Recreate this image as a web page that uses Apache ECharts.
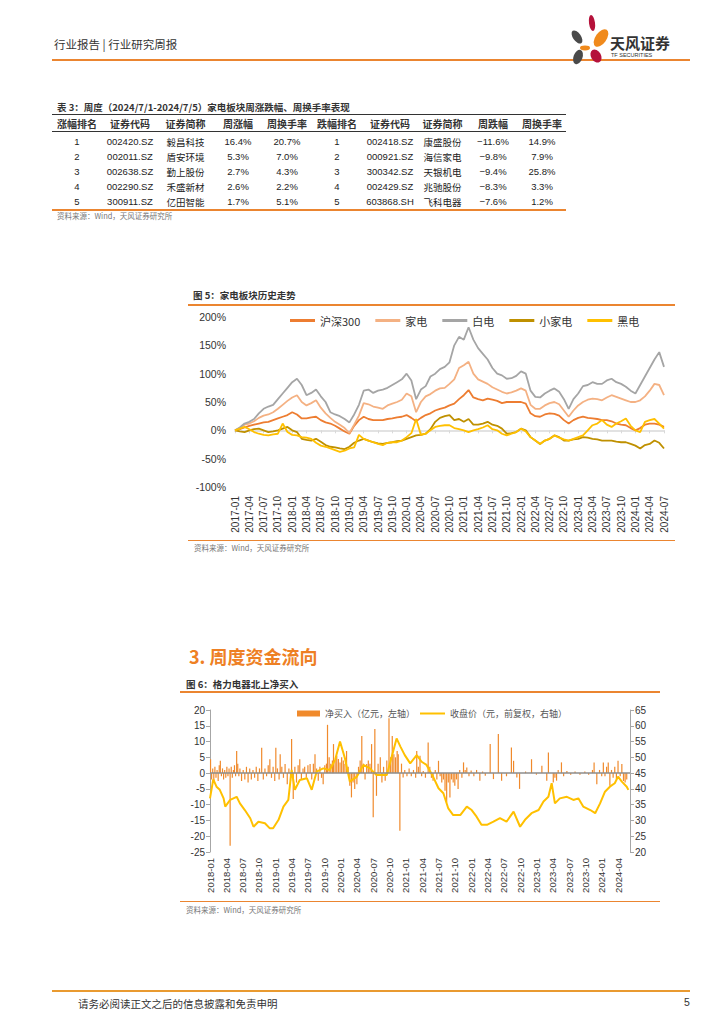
<!DOCTYPE html>
<html><head><meta charset="utf-8">
<script src="https://cdn.jsdelivr.net/npm/echarts/dist/echarts.min.js"></script>
<style>
body{margin:0;width:724px;height:1024px;position:relative;background:#fff;font-family:"Noto Sans CJK SC","Liberation Sans",sans-serif;color:#333;overflow:hidden}
.a{position:absolute;white-space:nowrap}
.ln{position:absolute;background:#EB8530}
table{border-collapse:collapse;table-layout:fixed;font-family:"Liberation Sans","Noto Sans CJK SC",sans-serif}
th{font-size:10px;font-weight:bold;height:16px;padding:0;text-align:center;border-bottom:1px solid #333;font-family:"Noto Sans CJK SC",sans-serif}
td{font-size:9.5px;height:15px;padding:0;text-align:center;color:#222}
</style></head>
<body>
<!-- page header -->
<div class="a" style="left:54px;top:36px;font-size:11.5px;color:#333">行业报告 | 行业研究周报</div>
<div class="ln" style="left:52px;top:59px;width:638px;height:2px"></div>
<svg class="a" style="left:566px;top:14px" width="44" height="52" viewBox="0 0 44 52">
  <ellipse cx="26" cy="9" rx="3" ry="8" fill="#B5123B" transform="rotate(-8 26 9)"/>
  <ellipse cx="35" cy="24" rx="5.5" ry="10" fill="#F08A1C" transform="rotate(35 35 24)"/>
  <ellipse cx="11" cy="23" rx="4" ry="7.5" fill="#4A4A4A" transform="rotate(-35 11 23)"/>
  <ellipse cx="19" cy="34" rx="5" ry="2.4" fill="#F08A1C"/>
  <ellipse cx="12" cy="43" rx="4.5" ry="7.5" fill="#4A4A4A" transform="rotate(20 12 43)"/>
  <ellipse cx="30" cy="42" rx="5" ry="7" fill="#B5123B" transform="rotate(-30 30 42)"/>
</svg>
<div class="a" style="left:610px;top:32px;font-size:15px;font-weight:bold;color:#333">天风证券</div>
<div class="a" style="left:611px;top:52px;font-size:5.5px;color:#333;font-family:'Liberation Sans'">TF SECURITIES</div>

<!-- table -->
<div class="a" style="left:57px;top:100px;font-size:9.5px;font-weight:bold;color:#333">表 3：周度（2024/7/1-2024/7/5）家电板块周涨跌幅、周换手率表现</div>
<table id="tbl" class="a" style="left:52px;top:114px;width:514px;border-top:1px solid #333;border-bottom:2px solid #EB8530"></table>
<div class="a" style="left:57px;top:210px;font-size:7.5px;color:#777">资料来源：Wind，天风证券研究所</div>

<!-- chart 5 -->
<div class="a" style="left:193px;top:288px;font-size:9.5px;font-weight:bold;color:#333">图 5：家电板块历史走势</div>
<div class="ln" style="left:188px;top:304px;width:487px;height:1.5px"></div>
<div id="c5" class="a" style="left:185px;top:305px;width:490px;height:235px"></div>
<div class="ln" style="left:188px;top:540px;width:487px;height:1px"></div>
<div class="a" style="left:194px;top:542px;font-size:7.5px;color:#777">资料来源：Wind，天风证券研究所</div>

<!-- chart 6 -->
<div class="a" style="left:189px;top:643px;font-size:18px;font-weight:bold;color:#EE8024">3. 周度资金流向</div>
<div class="a" style="left:186px;top:677px;font-size:9.5px;font-weight:bold;color:#333">图 6：格力电器北上净买入</div>
<div class="ln" style="left:180px;top:691px;width:480px;height:1.5px"></div>
<div id="c6" class="a" style="left:170px;top:692px;width:490px;height:208px"></div>
<div class="ln" style="left:180px;top:901px;width:480px;height:1px"></div>
<div class="a" style="left:186px;top:904px;font-size:7.5px;color:#777">资料来源：Wind，天风证券研究所</div>

<!-- footer -->
<div class="ln" style="left:52px;top:990px;width:638px;height:2px;background:#E99A30"></div>
<div class="a" style="left:78px;top:996px;font-size:10.5px;color:#333">请务必阅读正文之后的信息披露和免责申明</div>
<div class="a" style="left:684px;top:996px;font-size:10.5px;color:#333;font-family:'Liberation Sans'">5</div>

<script>
// ---------- table data ----------
const tableHeader = ['涨幅排名','证券代码','证券简称','周涨幅','周换手率','跌幅排名','证券代码','证券简称','周跌幅','周换手率'];
const upRank = ['1','2','3','4','5'];
const upCode = ['002420.SZ','002011.SZ','002638.SZ','002290.SZ','300911.SZ'];
const upName = ['毅昌科技','盾安环境','勤上股份','禾盛新材','亿田智能'];
const upChg = ['16.4%','5.3%','2.7%','2.6%','1.7%'];
const upTurn = ['20.7%','7.0%','4.3%','2.2%','5.1%'];
const dnRank = ['1','2','3','4','5'];
const dnCode = ['002418.SZ','000921.SZ','300342.SZ','002429.SZ','603868.SH'];
const dnName = ['康盛股份','海信家电','天银机电','兆驰股份','飞科电器'];
const dnChg = ['-11.6%','-9.8%','-9.4%','-8.3%','-7.6%'];
const dnTurn = ['14.9%','7.9%','25.8%','3.3%','1.2%'];
const colW = [50,56,55,50,48,52,54,51,50,48];

// ---------- chart 5 data (monthly, 2017-01 .. 2024-07, %) ----------
const startYear5 = 2017;
const hs300 = [0,2,5,8,10,12,14,15,18,21,
  24,27,32,28,21,21,23,24,18,14,
  12,8,3,-2,-6,8,18,24,20,18,
  18,18,20,21,23,24,27,22,16,22,
  27,30,35,38,40,44,47,55,62,71,
  58,55,53,56,54,52,48,50,50,50,
  50,47,30,25,24,28,30,29,26,18,
  12,18,22,24,22,21,20,18,18,16,
  12,10,9,4,0,4,10,12,12,10,
  6];
const jiadian = [0,4,10,12,16,22,26,28,32,38,
  45,52,58,62,50,44,48,53,40,30,
  22,15,10,4,-5,10,26,48,46,42,
  40,38,44,47,50,54,65,60,32,50,
  60,64,70,74,75,82,90,110,115,121,
  100,90,86,82,76,72,68,65,67,70,
  74,70,45,38,38,44,48,50,46,35,
  24,35,44,50,54,56,55,53,58,62,
  59,56,53,50,50,53,60,70,82,80,
  62];
const baidian = [0,5,12,15,20,30,38,42,45,55,
  65,75,85,91,80,62,66,72,60,50,
  32,28,25,20,14,28,45,70,72,66,
  70,72,75,80,85,90,100,88,55,72,
  78,95,100,108,112,120,150,165,160,182,
  160,145,135,125,110,100,97,91,92,96,
  104,100,70,59,58,65,70,74,68,55,
  38,55,65,78,80,85,82,82,88,91,
  85,82,77,70,65,80,95,110,125,138,
  112];
const xiaojiadian = [0,-2,-3,0,2,3,0,-3,-2,0,
  3,6,0,-3,-15,-17,-18,-15,-20,-26,
  -29,-30,-32,-33,-29,-22,-18,-15,-18,-21,
  -23,-24,-22,-21,-19,-18,-15,-12,-9,-8,
  -6,2,15,22,25,27,18,20,15,20,
  10,10,12,15,10,8,3,-6,-5,-3,
  3,0,-12,-18,-24,-18,-15,-9,-12,-18,
  -18,-16,-15,-12,-13,-15,-16,-18,-18,-18,
  -20,-21,-21,-24,-27,-32,-26,-24,-18,-22,
  -32];
const heidian = [0,3,6,2,-3,-6,-8,-9,-7,-6,
  12,-3,-8,-9,-12,-13,-15,-22,-27,-29,
  -32,-35,-38,-36,-32,-30,-8,-15,-18,-21,
  -24,-26,-22,-21,-21,-18,-12,-5,20,-8,
  -6,0,6,8,9,9,4,2,0,-3,
  0,2,5,9,2,0,-6,-9,-6,-3,
  3,-2,-12,-18,-24,-18,-15,-9,-13,-16,
  -18,-15,-12,-9,0,9,12,18,10,6,
  12,16,21,8,0,-3,15,18,20,12,
  3];
const names5 = ['沪深300','家电','白电','小家电','黑电'];
const colors5 = ['#ED7D31','#F4B183','#A5A5A5','#BF9000','#FFC000'];
const yTicks5 = [-100,-50,0,50,100,150,200];

// ---------- chart 6 data (x = months since 2018-01) ----------
const startYear6 = 2018;
const priceX = [0,0.6,1.2,1.8,2.5,2.8,3.7,4.9,5.5,6.4,7.4,8,8.9,10.1,11,11.6,12.6,13.5,14.4,15,15.6,16.5,17.8,18.7,19.6,20.8,22,23,23.9,24.8,25.7,27,28.2,29.4,30.6,31.6,32.5,33.4,34.3,35,35.8,36.8,38,38.9,39.8,41,42,42.9,43.8,44.7,46,47.2,48.1,49,49.9,50.9,52.1,53.3,54.5,55.8,57,57.9,59.1,60.4,61.3,62.2,62.8,63.4,64.3,65.6,66.8,67.7,68.6,69.9,70.8,71.7,72.6,73.5,74.4,75,75.7,76.6,76.9];
const priceY = [37,43,40.7,39.7,37,34.4,36.5,37.5,35.4,33.3,30.7,28,29.6,29.1,27.5,27.5,30.2,34.4,36.5,46,39.7,42.8,43.4,39.7,45.5,46.5,46,49.2,55,49.7,42.3,43.9,47.6,46.5,44.4,44.4,44.4,50.2,56,53.4,50.7,48.1,50.7,48.6,47.6,43.9,40.2,38.6,33.8,31.7,31.7,34.4,33.3,31.2,28.6,28.6,29.6,30.7,29.6,32.8,28,30.2,32.3,33.3,36,37.5,41.8,35.4,37,37.5,36.5,37,34.4,33.3,32.3,35.4,39.1,40.7,41.8,43.9,42.3,40.7,39.7];
const netBuyX = [0.1,0.3,0.5,0.7,0.9,1.1,1.3,1.5,1.7,1.9,2.1,2.3,2.5,2.7,2.9,3.1,3.3,3.5,3.7,3.9,4.1,4.3,4.5,4.7,4.9,5.1,5.3,5.5,5.8,6.1,6.4,6.7,7.0,7.3,7.6,7.9,8.2,8.5,8.8,9.1,9.5,9.8,10.1,10.4,10.7,11.0,11.3,11.6,11.9,12.1,12.4,12.7,12.9,13.2,13.5,13.8,14.2,14.5,14.8,15.0,15.3,15.6,15.9,16.2,16.5,16.8,17.1,17.4,17.7,18.0,18.4,18.7,19.0,19.3,19.6,19.9,20.2,20.5,20.8,21.1,21.4,21.6,21.9,22.2,22.5,22.7,23.0,23.3,23.6,23.9,24.2,24.5,24.8,25.1,25.4,25.7,26.0,26.3,26.6,27.0,27.3,27.6,27.9,28.2,28.5,28.8,29.1,29.4,29.7,30.0,30.3,30.6,30.9,31.3,31.6,31.9,32.2,32.5,32.9,33.2,33.5,33.8,34.1,34.4,34.6,34.9,35.2,35.5,35.8,36.2,36.6,37.0,37.4,37.8,38.0,38.3,38.6,38.9,39.2,39.6,40.1,40.4,40.7,41.0,41.4,41.7,42.0,42.3,42.6,42.9,43.2,43.5,43.8,44.1,44.4,44.7,45.0,45.3,45.6,45.9,46.3,46.6,46.9,47.2,47.6,48.0,48.5,49.0,49.6,50.1,50.6,51.5,52.1,53.0,53.6,54.5,55.4,55.8,56.4,56.9,58.0,59.1,60.0,61.0,61.9,62.2,63.1,63.4,63.7,64.0,64.6,65.0,65.6,66.3,67.1,68.0,68.9,69.6,70.3,70.6,71.1,71.6,72.0,72.3,72.6,72.9,73.2,73.5,73.8,74.1,74.4,74.7,75.0,75.4,75.7,76.0,76.3,76.6];
const netBuyY = [4.4,-2,1.5,-3,2,-1.5,1,-2.5,2.5,3.9,-1,1.5,-2,1,-1.5,2,-1,1.5,-23,2,-1.5,1,2.5,-1,7,3,-1,1.5,-2.5,1,-2,2,-3,1.5,-2,1,-1.5,2,-2.5,1.5,8,-2,1.5,-1,2.5,4.4,-1.5,2,-2.5,8,1.5,-2,6,2,-1.5,2.9,-3.5,1.5,-2.5,10.8,-8.2,2,-3,2.5,4.4,-2,1.5,2,-1.5,2.5,2.9,-2,3,6,1.5,-2.4,2,-1.5,-3.5,2.5,3,15.3,5,3,4,9.2,4,5.5,4.5,3.4,5,4,3,7,2,-4,-7.7,-3,-5,-3.5,2,4,11.8,3,-2,2.9,4,3,9.2,-14,14,-7.2,3,5,-3,2,-2.4,4,17.4,5,11.8,6,5,7,6,-18.3,3,-1.4,1,-1,1.5,-1,1,-1.5,7,2,5.5,-1,0.7,-1.5,9.7,2,-1.5,-2.4,1,-2,3.9,-1,-3,-2,-5.6,-9.3,-3,-7.7,-2,-3,-4,-2,-5,1,-1.5,3.4,1,1.8,-1,0.8,-1,1,-2.4,0.5,-0.8,9.2,-1.9,12.4,-2.4,-1,8.1,3.9,-1.4,-5,0.5,4.4,-0.5,2.3,-2.4,6.5,-3,-1.5,-2.4,1,3.4,-1,0.7,-0.5,0.5,-0.5,0.5,-0.5,1,3.4,-3.5,1,-1,3.4,-1,2,3.4,-4,1,-1.5,2,-2,3.9,-1,2.9,-2.5,-3,-2];
const names6 = ['净买入（亿元，左轴）','收盘价（元，前复权，右轴）'];
const colors6 = ['#F08A2C','#FFC000'];

// ---------- build table ----------
(function(){
  const t = document.getElementById('tbl');
  let h = '<colgroup>' + colW.map(w=>'<col style="width:'+w+'px">').join('') + '</colgroup>';
  h += '<tr>' + tableHeader.map(x=>'<th>'+x+'</th>').join('') + '</tr>';
  for (let i=0;i<upRank.length;i++){
    const cells=[upRank[i],upCode[i],upName[i],upChg[i],upTurn[i],dnRank[i],dnCode[i],dnName[i],dnChg[i],dnTurn[i]];
    h += '<tr>' + cells.map((c,j)=>'<td'+(i===0?' style="padding-top:2px"':'')+'>'+c.replace('-','−')+'</td>').join('') + '</tr>';
  }
  t.innerHTML = h;
})();

function ymLabel(start, v){
  if (Math.abs(v - Math.round(v))>1e-6 || Math.round(v)%3!==0) return '';
  v = Math.round(v);
  const y = start + Math.floor(v/12), m = v%12+1;
  return y + '-' + (m<10?'0':'') + m;
}

// ---------- chart 5 ----------
const c5 = echarts.init(document.getElementById('c5'), null, {renderer:'svg'});
const series5 = [hs300, jiadian, baidian, xiaojiadian, heidian].map((arr,k)=>({
  name:names5[k], type:'line', showSymbol:false, symbol:'none',
  data:arr.map((v,i)=>[i,v]),
  lineStyle:{width:1.8,color:colors5[k]}, itemStyle:{color:colors5[k]}, z:2+k
}));
c5.setOption({
  animation:false,
  color:colors5,
  grid:{left:50,right:11,top:12,height:170},
  legend:{data:names5,left:100,top:5,icon:'rect',itemWidth:25,itemHeight:3,itemGap:15,
    textStyle:{fontSize:11,color:'#333',fontFamily:'Noto Sans CJK SC, Liberation Sans'}},
  xAxis:[{type:'value',min:0,max:hs300.length-1,interval:3,position:'bottom',
    axisLine:{show:false,onZero:false},axisTick:{show:false},splitLine:{show:false},
    axisLabel:{rotate:90,margin:9,fontSize:10,color:'#333',fontFamily:'Liberation Sans',
      formatter:v=>ymLabel(startYear5,v),showMaxLabel:true}},
    {type:'value',min:0,max:hs300.length-1,interval:3,
    axisLine:{show:true,onZero:true,lineStyle:{color:'#D9D9D9',width:1.5}},
    axisTick:{show:true,inside:true,length:3,lineStyle:{color:'#D9D9D9'}},
    axisLabel:{show:false},splitLine:{show:false}}],
  yAxis:{type:'value',min:yTicks5[0],max:yTicks5[yTicks5.length-1],interval:50,
    axisLine:{show:false},axisTick:{show:false},splitLine:{show:false},
    axisLabel:{formatter:'{value}%',fontSize:10.5,color:'#333',margin:9,fontFamily:'Liberation Sans'}},
  series:series5
});

// ---------- chart 6 ----------
const c6 = echarts.init(document.getElementById('c6'), null, {renderer:'svg'});
const xMax6 = 77.2;
c6.setOption({
  animation:false,
  grid:{left:40,right:30,top:18,height:142},
  legend:[{data:[names6[0]],left:122,top:12,icon:'rect',itemWidth:23,itemHeight:6,
      textStyle:{fontSize:9,color:'#555',fontFamily:'Noto Sans CJK SC'}},
    {data:[names6[1]],left:245,top:12,icon:'rect',itemWidth:25,itemHeight:2,
      textStyle:{fontSize:9,color:'#555',fontFamily:'Noto Sans CJK SC'}}],
  xAxis:{type:'value',min:0,max:xMax6,interval:3,
    axisLine:{show:false,onZero:false},axisTick:{show:false},splitLine:{show:false},
    axisLabel:{rotate:90,margin:6,fontSize:9.5,color:'#333',fontFamily:'Liberation Sans',
      formatter:v=>ymLabel(startYear6,v)}},
  yAxis:[{type:'value',min:-25,max:20,interval:5,
      axisLine:{show:true,lineStyle:{color:'#A6A6A6',width:1}},
      axisTick:{show:true,length:4,lineStyle:{color:'#A6A6A6'}},splitLine:{show:false},
      axisLabel:{fontSize:10,color:'#333',margin:5,fontFamily:'Liberation Sans'}},
    {type:'value',min:20,max:65,interval:5,position:'right',
      axisLine:{show:true,lineStyle:{color:'#A6A6A6',width:1}},
      axisTick:{show:true,length:4,lineStyle:{color:'#A6A6A6'}},splitLine:{show:false},
      axisLabel:{fontSize:10,color:'#333',margin:5,fontFamily:'Liberation Sans'}}],
  series:[
    {name:names6[0],type:'bar',yAxisIndex:0,barWidth:1.2,
      itemStyle:{color:colors6[0]},
      data:netBuyX.map((x,i)=>[x,netBuyY[i]]),
      markLine:{silent:true,symbol:'none',label:{show:false},
        lineStyle:{color:'#8C8C8C',width:1.5,type:'solid'},data:[{yAxis:0}]},
      z:2},
    {name:names6[1],type:'line',yAxisIndex:1,showSymbol:false,symbol:'none',
      lineStyle:{width:2,color:colors6[1]},itemStyle:{color:colors6[1]},
      data:priceX.map((x,i)=>[x,priceY[i]]),z:3}
  ]
});
</script>
</body></html>
